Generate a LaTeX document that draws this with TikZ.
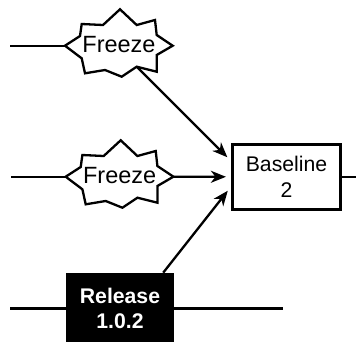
\documentclass[tikz,border=0pt]{standalone}
\usepackage{fontspec}
\setmainfont{Liberation Sans}
\usetikzlibrary{arrows.meta}
\begin{document}
\begin{tikzpicture}[x=1pt,y=-1pt,
  conn/.style={line width=2.3pt},
  arr/.style={conn,-{Stealth[length=15pt,width=12pt,inset=4.5pt]},shorten >=5pt},
  burstline/.style={line width=2.3pt,line join=miter,fill=white},
  freezetext/.style={font=\fontsize{23.5}{27}\selectfont,inner sep=0pt},
  basebox/.style={draw,line width=3.2pt,minimum width=108pt,minimum height=65pt,align=center,font=\fontsize{21.2}{25.6}\selectfont,inner sep=0pt},
  relbox/.style={fill=black,text=white,minimum width=108pt,minimum height=71pt,align=center,font=\fontsize{21.2}{25.6}\selectfont\bfseries,inner sep=0pt}]
\useasboundingbox (0,0) rectangle (356,341);
\clip (0,0) rectangle (356,341);
% burst shapes
\begin{scope}[shift={(119,45.7)}]
\draw[burstline] (-54,0) coordinate (f1w) -- (-39,-9.7) -- (-37.3,-21.7) -- (-16,-20.7) -- (1,-36.4) -- (17.7,-20.7) -- (36,-25.7) -- (37.7,-10.7) -- (53.7,0) coordinate (f1e) -- (37.7,9.3) -- (37.7,26) -- (17.7,21) coordinate (f1se) -- (2.7,31) -- (-14,24.3) -- (-34,27.6) -- (-37.3,12.6) -- cycle;
\end{scope}
\begin{scope}[shift={(119.7,176.7)}]
\draw[burstline] (-54,0) coordinate (f2w) -- (-39,-9.7) -- (-37.3,-21.7) -- (-16,-20.7) -- (1,-36.4) -- (17.7,-20.7) -- (36,-25.7) -- (37.7,-10.7) -- (53.7,0) coordinate (f2e) -- (37.7,9.3) -- (37.7,26) -- (17.7,21) coordinate (f2se) -- (2.7,31) -- (-14,24.3) -- (-34,27.6) -- (-37.3,12.6) -- cycle;
\end{scope}
\node[freezetext] (f1) at (119,44.7) {Freeze};
\node[freezetext] (f2) at (119.7,175.2) {Freeze};
% boxes
\node[basebox] (base) at (286.5,176.8) {Baseline\\2};
\node[relbox] (rel) at (120,308.4) {Release\\1.0.2};
% free ends
\coordinate (l1) at (10,45.7);
\coordinate (l2) at (11,176.7);
\coordinate (l3) at (10,308.4);
\coordinate (r3) at (283,308.4);
\coordinate (rb) at (356,176.8);
% connectors
\draw[conn] (l1) -- (f1w);
\draw[conn] (l2) -- (f2w);
\draw[conn] (l3) -- (rel.west);
\draw[conn] (rel.east) -- (r3);
\draw[conn] (base.east) -- (rb);
\draw[arr] (f1se) -- ([yshift=16pt]base.west);
\draw[arr] (f2e) -- (base.west);
\draw[arr] ([xshift=-11pt]rel.north east) -- ([yshift=-10pt]base.west);
\end{tikzpicture}
\end{document}
